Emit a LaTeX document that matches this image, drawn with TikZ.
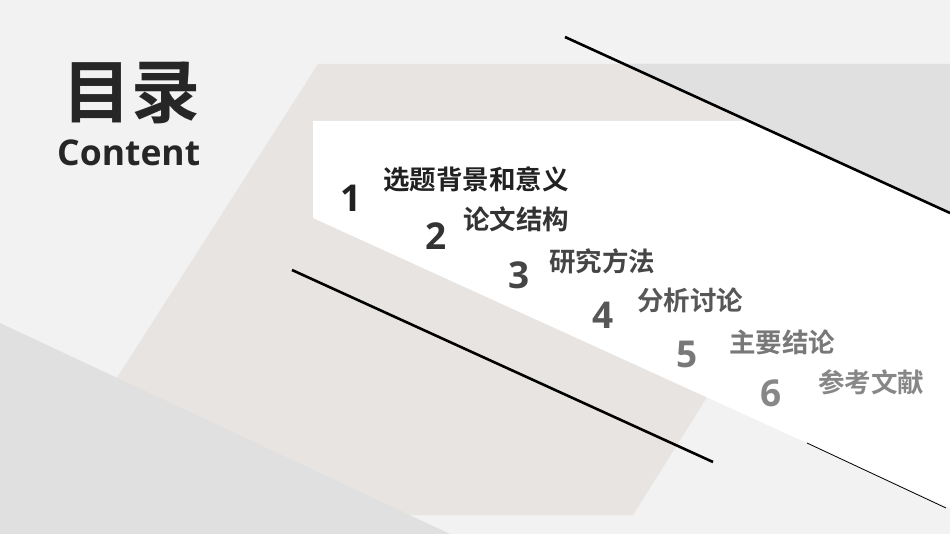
\documentclass[tikz,border=0pt]{standalone}
\usepackage{fontspec}
\setmainfont{Open Sans}
\newfontfamily\cjk{Noto Sans CJK SC}[BoldFont={Noto Sans CJK SC Bold}]
\definecolor{beige}{HTML}{E7E4E1}
\begin{document}
\begin{tikzpicture}[x=1pt,y=-1pt,
  num/.style={font=\fontsize{37}{37}\selectfont\bfseries, inner sep=0pt},
  lab/.style={font=\cjk\fontsize{26.5}{27}\selectfont\bfseries, inner sep=0pt, anchor=west}]
\useasboundingbox (0,0) rectangle (950,534);
\fill[black!5] (0,0) rectangle (950,534);
\fill[beige] (318,64) -- (760,64) -- (768,300) -- (633,515) -- (29,515) -- cycle;
\fill[black!12] (624,64) -- (950,64) -- (950,213) -- cycle;
\fill[black!12] (0,323) -- (450,534) -- (0,534) -- cycle;
\fill[white] (313,121) -- (749,121) -- (950,213) -- (950,508) -- (313,218) -- cycle;
\draw[line width=2.6pt] (565,37) coordinate (a1) -- (950,213) coordinate (a2);
\draw[line width=2.6pt] (292,270) coordinate (b1) -- (713,462) coordinate (b2);
\draw[line width=0.8pt] (807,443) coordinate (c1) -- (946,508) coordinate (c2);
\node[font=\cjk\fontsize{69}{69}\selectfont\bfseries, text=black!85, inner sep=0pt] (t) at (131,93) {目录};
\node[font=\fontsize{35.5}{36}\selectfont\bfseries, text=black!85, inner sep=0pt, anchor=base west] (c) at (57,166) {Content};
\node[num, text=black!87] (n1) at (351,198) {1};
\node[num, text=black!80] (n2) at (436,236) {2};
\node[num, text=black!73] (n3) at (519,275) {3};
\node[num, text=black!66] (n4) at (603,315) {4};
\node[num, text=black!53] (n5) at (687,354) {5};
\node[num, text=black!47] (n6) at (771,393) {6};
\node[lab, text=black!87] (l1) at (383,179) {选题背景和意义};
\node[lab, text=black!80] (l2) at (463,219) {论文结构};
\node[lab, text=black!73] (l3) at (549,261) {研究方法};
\node[lab, text=black!66] (l4) at (637,300) {分析讨论};
\node[lab, text=black!53] (l5) at (729,342) {主要结论};
\node[lab, text=black!47] (l6) at (818,382) {参考文献};
\end{tikzpicture}
\end{document}
